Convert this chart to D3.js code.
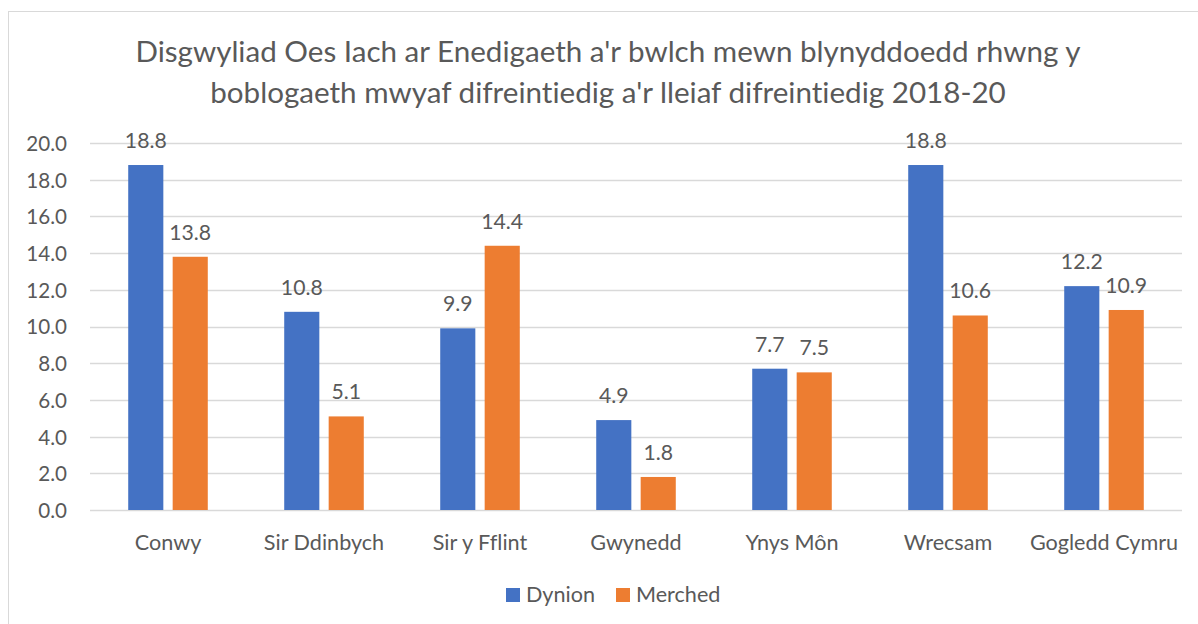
<!DOCTYPE html>
<html>
<head>
<meta charset="utf-8">
<script src="https://cdn.jsdelivr.net/npm/d3@7"></script>
<style>
  html, body { margin: 0; padding: 0; background: #fff; }
  svg text { font-family: Lato, "Open Sans", sans-serif; fill: #595959; font-variant-ligatures: none; font-feature-settings: "liga" 0, "clig" 0, "dlig" 0; }
</style>
</head>
<body>
<svg id="chart" width="1198" height="624"></svg>
<script>
// Areas of North Wales
const categories = ["Conwy", "Sir Ddinbych", "Sir y Fflint", "Gwynedd", "Ynys Môn", "Wrecsam", "Gogledd Cymru"];
// Gap in healthy life expectancy (years), most vs least deprived
const dynion  = [18.8, 10.8, 9.9, 4.9, 7.7, 18.8, 12.2];
const merched = [13.8, 5.1, 14.4, 1.8, 7.5, 10.6, 10.9];
const seriesNames = ["Dynion", "Merched"];
const yTicks = [0, 2, 4, 6, 8, 10, 12, 14, 16, 18, 20];
const titleLines = [
  "Disgwyliad Oes Iach ar Enedigaeth a'r bwlch mewn blynyddoedd rhwng y",
  "boblogaeth mwyaf difreintiedig a'r lleiaf difreintiedig 2018-20"
];

const colors = { Dynion: "#4472C4", Merched: "#ED7D31" };
const rows = categories.map((c, i) => ({ cat: c, Dynion: dynion[i], Merched: merched[i] }));

const svg = d3.select("#chart");

// chart frame
svg.append("rect")
  .attr("x", 8.5).attr("y", 11.5)
  .attr("width", 1200).attr("height", 620)
  .attr("fill", "#fff").attr("stroke", "#D9D9D9").attr("stroke-width", 1);

const plot = { left: 90, right: 1182, top: 143, bottom: 510 };

const x0 = d3.scaleBand().domain(categories).range([plot.left, plot.right]).paddingInner(0.49).paddingOuter(0.245);
const x1 = d3.scaleBand().domain(seriesNames).range([0, x0.bandwidth()]).paddingInner(0.21);
const y = d3.scaleLinear().domain([0, 20]).range([plot.bottom, plot.top]);

// gridlines
svg.append("g")
  .selectAll("line").data(yTicks).join("line")
  .attr("x1", plot.left).attr("x2", plot.right)
  .attr("y1", d => Math.round(y(d)) + 0.5).attr("y2", d => Math.round(y(d)) + 0.5)
  .attr("stroke", "#D9D9D9").attr("stroke-width", 1.3);

// y-axis labels
const yAxis = d3.axisLeft(y).tickValues(yTicks).tickFormat(d3.format(".1f")).tickSize(0).tickPadding(0);
const yg = svg.append("g").attr("transform", "translate(67,0)").call(yAxis);
yg.select(".domain").remove();
yg.selectAll("text").attr("font-size", 20.6).attr("dy", "0.36em").style("fill", "#595959").attr("font-family", "Lato, sans-serif");

// bars
const groups = svg.append("g").selectAll("g").data(rows).join("g")
  .attr("transform", d => `translate(${x0(d.cat)},0)`);

groups.selectAll("rect").data(d => seriesNames.map(s => ({ s, v: d[s] }))).join("rect")
  .attr("x", d => x1(d.s))
  .attr("width", x1.bandwidth())
  .attr("y", d => y(d.v))
  .attr("height", d => y(0) - y(d.v))
  .attr("fill", d => colors[d.s]);

// value labels
groups.selectAll("text").data(d => seriesNames.map(s => ({ s, v: d[s] }))).join("text")
  .attr("x", d => x1(d.s) + x1.bandwidth() / 2)
  .attr("y", d => y(d.v) - 17)
  .attr("text-anchor", "middle")
  .attr("font-size", 21.2)
  .text(d => d3.format(".1f")(d.v));

// category labels
const xAxis = d3.axisBottom(x0).tickSize(0).tickPadding(0);
const xg = svg.append("g").attr("transform", `translate(0,${plot.bottom})`).call(xAxis);
xg.select(".domain").remove();
xg.selectAll("text").attr("font-size", 21.6).attr("dy", 0).attr("y", 40)
  .style("fill", "#595959").attr("font-family", "Lato, sans-serif");

// title
svg.append("g").selectAll("text").data(titleLines).join("text")
  .attr("x", 608).attr("y", (d, i) => 62 + i * 41)
  .attr("text-anchor", "middle")
  .attr("font-size", 29.6)
  .text(d => d);

// legend
const legend = svg.append("g").attr("transform", "translate(506,588)");
const items = legend.selectAll("g").data(seriesNames).join("g")
  .attr("transform", (d, i) => `translate(${i * 110},0)`);
items.append("rect").attr("width", 14).attr("height", 14).attr("fill", d => colors[d]);
items.append("text").attr("x", 20).attr("y", 14).attr("font-size", 21.6).text(d => d);
</script>
</body>
</html>
